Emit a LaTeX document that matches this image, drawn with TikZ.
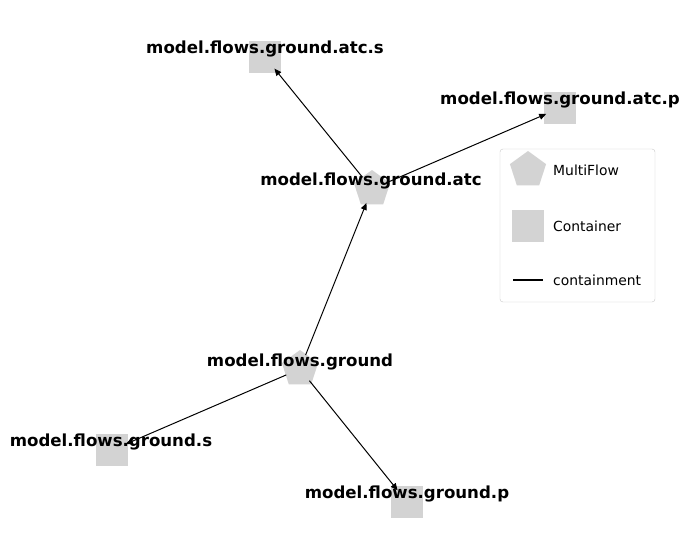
\documentclass[tikz,border=0pt]{standalone}
\usepackage{fontspec}
\setmainfont{DejaVu Sans}
\usetikzlibrary{arrows.meta,shapes.geometric}

\definecolor{nodegray}{RGB}{211,211,211}
\definecolor{framegray}{RGB}{200,200,200}

\tikzset{
	flow/.style={regular polygon,regular polygon sides=5,fill=nodegray,minimum size=38pt,inner sep=0pt},
	box/.style={rectangle,fill=nodegray,minimum size=32pt,inner sep=0pt},
	lbl/.style={font=\fontsize{16.6}{20}\selectfont\bfseries,inner sep=0pt},
	leg/.style={font=\fontsize{13.9}{17}\selectfont,anchor=west,inner sep=0pt}
}

\begin{document}
\begin{tikzpicture}[x=1pt,y=-1pt,>={Triangle[length=7pt,width=6pt]},shorten >=15pt,shorten <=15pt]

\useasboundingbox (0,0) rectangle (690,559);

% nodes
\node[flow]   (g)      at (300,369)    {};
\node[flow]   (atc)    at (372,189)    {};
\node[box]    (atcs)   at (265,57)     {};
\node[box]    (atcp)   at (560,108)    {};
\node[box]    (gs)     at (112,450)    {};
\node[box]    (gp)     at (407,502)    {};

% containment
\path[->,line width=1pt] (g.center)  edge  (atc.center)
						edge  (gs.center)
						edge  (gp.center)
				(atc.center) edge  (atcs.center)
						edge  (atcp.center);

% labels
\node[lbl]   (gl)      at (300,362)    {model.flows.ground};
\node[lbl]   (atcl)    at (371,181)    {model.flows.ground.atc};
\node[lbl]   (atcsl)   at (265,49)     {model.flows.ground.atc.s};
\node[lbl]   (atcpl)   at (560,100)    {model.flows.ground.atc.p};
\node[lbl]   (gsl)     at (111,442)    {model.flows.ground.s};
\node[lbl]   (gpl)     at (407,494)    {model.flows.ground.p};

% legend
\node[draw=framegray,rounded corners=3pt,minimum width=155pt,minimum height=153pt,inner sep=0pt] (legbox) at (577.5,225.5) {};
\node[flow]  (legflow)  at (528,170)   {};
\node[box]   (legbox2)  at (528,226)   {};
\coordinate  (lega)     at (513,280);
\coordinate  (legb)     at (543,280);
\draw[line width=1.5pt,shorten >=0pt,shorten <=0pt] (lega) -- (legb);
\node[leg]   (legt1)    at (553,170)   {MultiFlow};
\node[leg]   (legt2)    at (553,226)   {Container};
\node[leg]   (legt3)    at (553,280)   {containment};

\end{tikzpicture}
\end{document}
